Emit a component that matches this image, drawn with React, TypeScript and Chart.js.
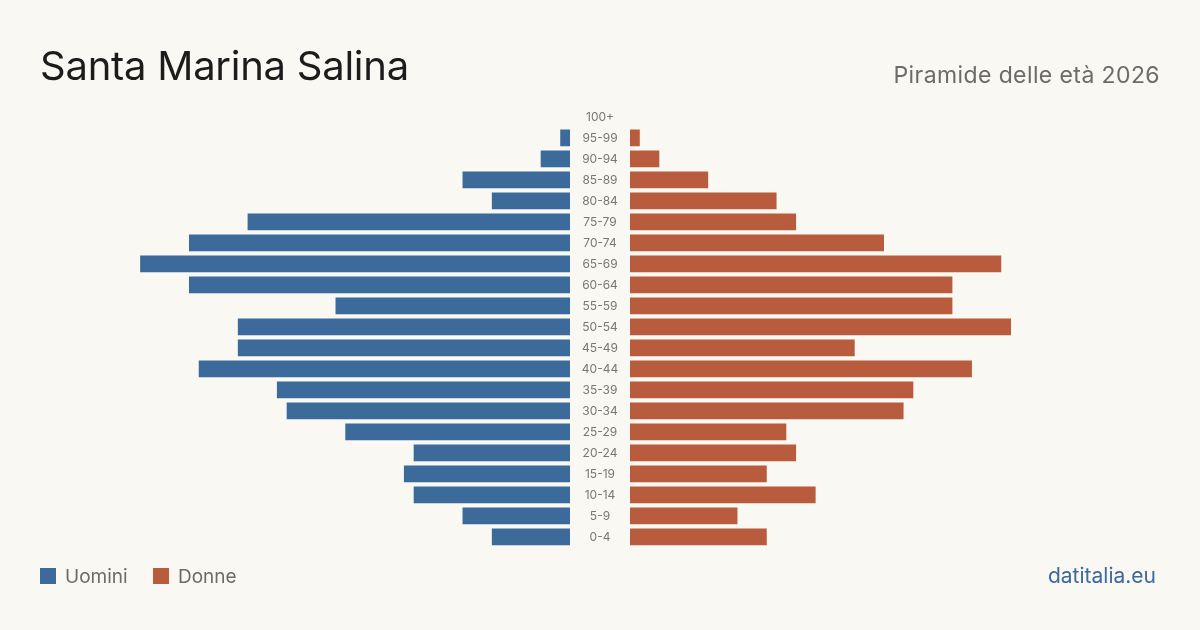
import React, { useEffect, useRef } from "react";
import { Chart, registerables } from "chart.js";

Chart.register(...registerables);

const ageGroups = ["100+", "95-99", "90-94", "85-89", "80-84", "75-79", "70-74", "65-69", "60-64", "55-59", "50-54", "45-49", "40-44", "35-39", "30-34", "25-29", "20-24", "15-19", "10-14", "5-9", "0-4"];
const maleValues = [0, 1, 3, 11, 8, 33, 39, 44, 39, 24, 34, 34, 38, 30, 29, 23, 16, 17, 16, 11, 8];
const femaleValues = [0, 1, 3, 8, 15, 17, 26, 38, 33, 33, 39, 23, 35, 29, 28, 16, 17, 14, 19, 11, 14];
const titleText = "Santa Marina Salina";
const subtitleText = "Piramide delle età 2026";
const legendLabels = ["Uomini", "Donne"];
const sourceText = "datitalia.eu";

const BLUE = "#3b6a9b";
const ORANGE = "#b85c3d";
const BG = "#f9f8f3";
const FONT = "Inter, 'Noto Sans', sans-serif";
const AXIS_MAX = 54.25;

const labelPlugin = {
  id: "centerLabels",
  afterDatasetsDraw(chart: any) {
    const { ctx, chartArea, scales } = chart;
    const y = scales.y;
    ctx.save();
    ctx.fillStyle = "#777";
    ctx.font = `12px ${FONT}`;
    ctx.textAlign = "center";
    ctx.textBaseline = "middle";
    ageGroups.forEach((lab, i) => {
      ctx.fillText(lab, chartArea.left - 30, y.getPixelForValue(i) + 0.5);
    });
    ctx.restore();
  },
};

function makeConfig(values: number[], color: string, reverse: boolean, padding: any, plugins: any[]) {
  return {
    type: "bar" as const,
    data: {
      labels: ageGroups,
      datasets: [
        {
          data: values,
          backgroundColor: color,
          borderWidth: 0,
          barPercentage: 0.8,
          categoryPercentage: 1,
        },
      ],
    },
    options: {
      indexAxis: "y" as const,
      animation: false as const,
      responsive: false,
      maintainAspectRatio: false,
      layout: { padding },
      plugins: { legend: { display: false }, tooltip: { enabled: false } },
      scales: {
        x: { display: false, min: 0, max: AXIS_MAX, reverse },
        y: { display: false },
      },
    },
    plugins,
  };
}

export default function App() {
  const leftRef = useRef<HTMLCanvasElement>(null);
  const rightRef = useRef<HTMLCanvasElement>(null);

  useEffect(() => {
    document.body.style.margin = "0";
    const left = new Chart(
      leftRef.current as HTMLCanvasElement,
      makeConfig(maleValues, BLUE, true, { left: 40, right: 0, top: 106.4, bottom: 82.6 }, []) as any
    );
    const right = new Chart(
      rightRef.current as HTMLCanvasElement,
      makeConfig(femaleValues, ORANGE, false, { left: 60, right: 40, top: 106.4, bottom: 82.6 }, [labelPlugin]) as any
    );
    return () => {
      left.destroy();
      right.destroy();
    };
  }, []);

  return (
    <div style={{ position: "fixed", left: 0, top: 0, width: 1200, height: 630, background: BG, overflow: "hidden", fontFamily: FONT }}>
      <canvas ref={leftRef} width={570} height={630} style={{ position: "absolute", left: 0, top: 0, width: 570, height: 630 }} />
      <canvas ref={rightRef} width={630} height={630} style={{ position: "absolute", left: 570, top: 0, width: 630, height: 630 }} />
      <div style={{ position: "absolute", left: 40, top: 46, fontSize: 40, lineHeight: 1, letterSpacing: -0.25, color: "#1c1c1c", whiteSpace: "nowrap" }}>{titleText}</div>
      <div style={{ position: "absolute", right: 40, top: 64, fontSize: 23, lineHeight: 1, letterSpacing: 0.4, color: "#6b6b6b", whiteSpace: "nowrap" }}>{subtitleText}</div>
      <div style={{ position: "absolute", left: 40, top: 568, width: 16, height: 16, background: BLUE }} />
      <div style={{ position: "absolute", left: 65, top: 567, fontSize: 19, lineHeight: 1, color: "#6b6b6b" }}>{legendLabels[0]}</div>
      <div style={{ position: "absolute", left: 153, top: 568, width: 16, height: 16, background: ORANGE }} />
      <div style={{ position: "absolute", left: 178, top: 567, fontSize: 19, lineHeight: 1, color: "#6b6b6b" }}>{legendLabels[1]}</div>
      <div style={{ position: "absolute", right: 44, top: 565, fontSize: 21, lineHeight: 1, color: BLUE }}>{sourceText}</div>
    </div>
  );
}
